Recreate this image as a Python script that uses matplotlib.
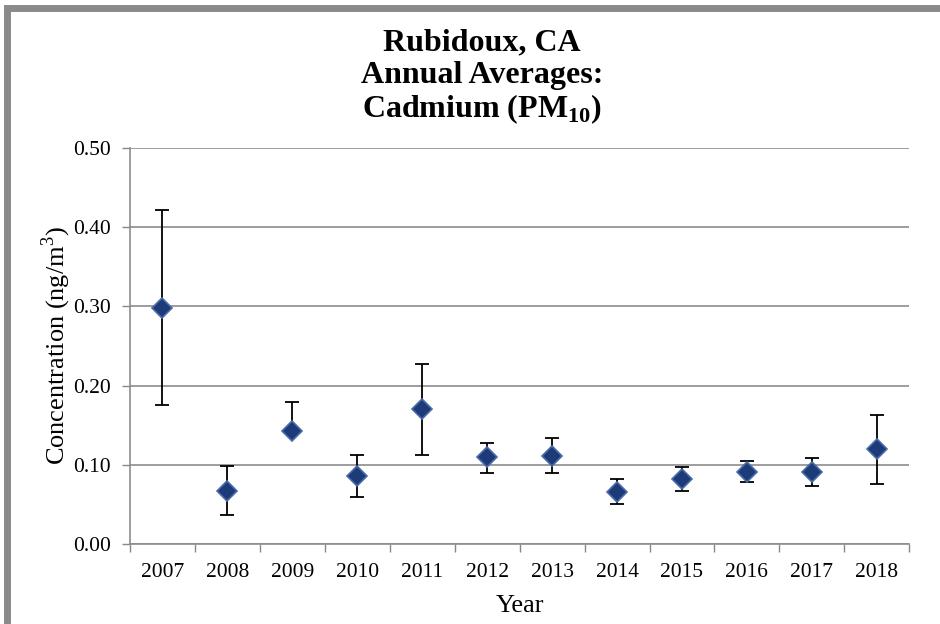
import numpy as np
import matplotlib
matplotlib.use("Agg")
import matplotlib.pyplot as plt
from matplotlib.patches import Rectangle

plt.rcParams['font.family'] = ['Liberation Serif', 'DejaVu Serif']
plt.rcParams['mathtext.fontset'] = 'custom'
plt.rcParams['mathtext.rm'] = 'Liberation Serif'
plt.rcParams['mathtext.bf'] = 'Liberation Serif:bold'

# data
years = ['2007', '2008', '2009', '2010', '2011', '2012',
         '2013', '2014', '2015', '2016', '2017', '2018']
mean = [0.298, 0.067, 0.143, 0.086, 0.170, 0.110, 0.111, 0.066, 0.082, 0.091, 0.091, 0.120]
upper = [0.422, 0.098, 0.179, 0.112, 0.227, 0.128, 0.134, 0.082, 0.097, 0.105, 0.109, 0.163]
lower = [0.175, 0.037, 0.140, 0.059, 0.112, 0.090, 0.090, 0.051, 0.067, 0.078, 0.073, 0.076]

mean = np.array(mean)
err = np.array([mean - np.array(lower), np.array(upper) - mean])
x = np.arange(len(years))

fig = plt.figure(figsize=(9.4, 6.24), dpi=100)
ax = fig.add_axes([0.1383, 0.1282, 0.829, 0.6346])

ax.errorbar(x, mean, yerr=err, fmt='none', ecolor='black', elinewidth=1.3,
            capsize=5, capthick=1.3, zorder=2)
ax.plot(x, mean, 'D', ms=10, mfc='#1d3b78', mec='#4a6aa8', mew=1.2, zorder=3)

ax.set_xlim(-0.5, len(years) - 0.5)
ax.set_ylim(0, 0.5)
ax.set_yticks(np.arange(0, 0.51, 0.1))
ax.set_yticklabels(['%.2f' % v for v in np.arange(0, 0.51, 0.1)])
ax.set_xticks(x)
ax.set_xticklabels(years)
ax.set_xticks(np.arange(-0.5, len(years)), minor=True)
ax.tick_params(axis='x', which='major', length=0, labelsize=15.5, pad=14)
ax.tick_params(axis='x', which='minor', length=6, color='#888888', width=1)
ax.tick_params(axis='y', length=6, color='#888888', width=1, labelsize=15.5, pad=8)

ax.yaxis.grid(True, color='#8c8c8c', linewidth=1.2)
ax.set_axisbelow(True)
for s in ['top', 'right']:
    ax.spines[s].set_visible(False)
ax.spines['left'].set_color('#8c8c8c')
ax.spines['bottom'].set_color('#8c8c8c')
ax.spines['left'].set_linewidth(1.2)
ax.spines['bottom'].set_linewidth(1.2)

ax.set_xlabel('Year', fontsize=19, labelpad=9)
ax.set_ylabel('Concentration (ng/m$^3$)', fontsize=19, labelpad=0)

fig.text(0.513, 0.932, 'Rubidoux, CA', ha='center', va='center',
         fontsize=23, fontweight='bold')
fig.text(0.513, 0.879, 'Annual Averages:', ha='center', va='center',
         fontsize=23, fontweight='bold')
fig.text(0.513, 0.825, r'Cadmium (PM$_{\mathbf{10}}$)', ha='center', va='center',
         fontsize=23, fontweight='bold')

# grey frame round the chart
fig.patches.append(Rectangle((0.007, -0.05), 1.05, 1.037, transform=fig.transFigure,
                             fill=False, edgecolor='#8a8a8a', linewidth=5))

fig.savefig('out.png', dpi=100)
